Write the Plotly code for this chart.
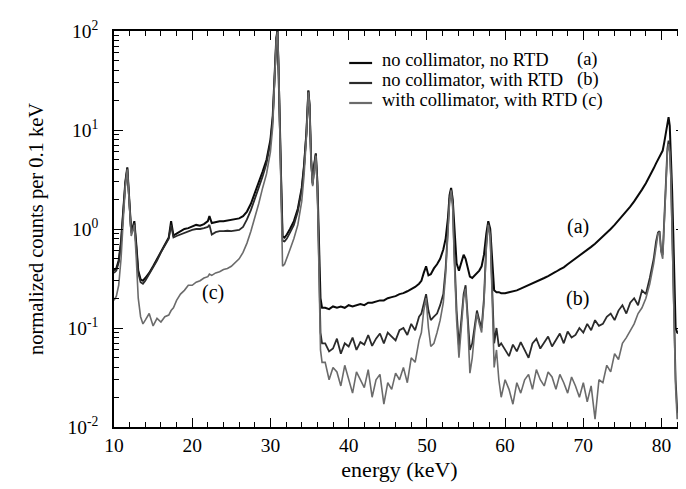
import plotly.graph_objects as go
import math

# Energy grid (keV)
energy = [
    10.0, 10.3, 10.6, 10.9, 11.2, 11.45, 11.7, 11.95, 12.2, 12.4, 12.6, 12.85, 13.1, 13.4, 13.7,
    14.0, 14.5, 15.0, 15.5, 16.0, 16.5, 17.0, 17.3, 17.6, 18.0, 18.5, 19.0, 19.5, 20.0, 20.5,
    21.0, 21.5, 22.0, 22.2, 22.5, 23.0, 23.5, 24.0, 24.5, 25.0, 25.5, 26.0, 26.5, 27.0, 27.5,
    28.0, 28.5, 29.0, 29.5, 30.0,
    30.3, 30.55, 30.75, 30.9, 31.05, 31.2, 31.35, 31.55, 31.8, 32.1, 32.5, 33.0, 33.5, 34.0,
    34.3, 34.6, 34.85, 35.0, 35.2, 35.4, 35.6, 35.8, 36.0, 36.2, 36.4, 36.6,
    37.0, 37.5, 38.0, 38.5, 39.0, 39.5, 40.0, 40.5, 41.0, 41.5, 42.0, 42.5, 43.0, 43.5, 44.0,
    44.5, 45.0, 45.5, 46.0, 46.5, 47.0, 47.5, 48.0, 48.5, 49.0,
    49.3, 49.6, 49.9, 50.2, 50.5, 50.9, 51.3, 51.7, 52.1, 52.4, 52.7, 52.9, 53.1, 53.3, 53.5,
    53.8, 54.1, 54.4, 54.7, 54.95, 55.2, 55.5, 55.8, 56.1, 56.4, 56.7, 57.0, 57.3, 57.6, 57.85,
    58.1, 58.35, 58.6, 58.9, 59.2,
    59.5, 60.0, 60.5, 61.0, 61.5, 62.0, 62.5, 63.0, 63.5, 64.0, 64.5, 65.0, 65.5, 66.0, 66.5,
    67.0, 67.5, 68.0, 68.5, 69.0, 69.5, 70.0, 70.5, 71.0, 71.5, 72.0, 72.5, 73.0, 73.5, 74.0,
    74.5, 75.0, 75.5, 76.0, 76.5, 77.0, 77.5, 78.0, 78.5, 79.0,
    79.3, 79.55, 79.75, 79.95, 80.15, 80.35, 80.55, 80.75, 80.9, 81.05, 81.2, 81.35, 81.5,
    81.65, 81.8, 82.0, 82.3, 82.6, 83.0,
]

# (a) no collimator, no RTD
counts_a = [
    0.38, 0.40, 0.48, 0.75, 1.6, 3.0, 4.2, 2.0, 0.95, 1.05, 1.2, 0.7, 0.38, 0.31, 0.30,
    0.32, 0.36, 0.42, 0.5, 0.6, 0.7, 0.82, 1.2, 0.86, 0.9, 0.95, 1.0, 1.02, 1.05, 1.1,
    1.08, 1.12, 1.2, 1.35, 1.15, 1.18, 1.2, 1.2, 1.22, 1.22, 1.25, 1.28, 1.35, 1.5, 1.8,
    2.3, 2.9, 3.8, 5.0, 8.0,
    14, 40, 85, 102, 45, 12, 3.5, 0.85, 0.82, 0.88, 1.0, 1.2, 1.6, 2.6,
    4.4, 9.5, 25, 18, 5, 2.9, 4.5, 5.8, 3.0, 0.7, 0.2, 0.16,
    0.16, 0.155, 0.165, 0.16, 0.165, 0.16, 0.17, 0.165, 0.17, 0.175, 0.17, 0.18, 0.18, 0.185, 0.19,
    0.19, 0.2, 0.205, 0.21, 0.22, 0.225, 0.235, 0.245, 0.26, 0.28,
    0.3, 0.36, 0.42, 0.34, 0.35, 0.4, 0.44, 0.5, 0.62, 0.8, 1.3, 2.2, 2.6, 2.0, 1.0,
    0.45, 0.38, 0.45, 0.55, 0.5, 0.4, 0.33, 0.32, 0.34, 0.36, 0.38, 0.42, 0.55, 0.9, 1.2,
    1.0, 0.45, 0.24, 0.23, 0.23,
    0.225, 0.225, 0.23, 0.235, 0.24, 0.25, 0.26, 0.27, 0.28, 0.295, 0.305, 0.32, 0.335, 0.35, 0.37,
    0.39, 0.41, 0.44, 0.47, 0.5, 0.53, 0.57, 0.61, 0.66, 0.71, 0.77, 0.84, 0.92, 1.0, 1.1,
    1.22, 1.35, 1.5, 1.68, 1.9, 2.15, 2.5, 2.9, 3.4, 4.1,
    4.6, 5.0, 5.3, 5.6, 6.2, 7.5, 9.5, 12.5, 13.5, 11, 6, 2.5, 0.9,
    0.3, 0.1, 0.09, 0.088, 0.09, 0.088,
]

# (b) no collimator, with RTD
counts_b = [
    0.36, 0.38, 0.46, 0.72, 1.55, 2.9, 4.1, 1.95, 0.92, 1.0, 1.15, 0.66, 0.36, 0.29, 0.28,
    0.30, 0.35, 0.41, 0.48, 0.58, 0.68, 0.8, 1.1, 0.82, 0.85, 0.88, 0.92, 0.95, 0.98, 1.0,
    1.0, 1.02, 1.05, 1.1, 0.88, 0.93, 0.95, 0.95, 0.96, 0.95, 0.97, 0.98, 1.05, 1.25, 1.55,
    2.0, 2.6, 3.4, 4.6, 7.5,
    13, 38, 82, 100, 44, 11, 3.3, 0.76, 0.75, 0.8, 0.92, 1.1, 1.5, 2.5,
    4.3, 9.3, 25, 18, 5, 2.8, 4.4, 5.7, 2.8, 0.5, 0.09, 0.07,
    0.07, 0.058, 0.062, 0.078, 0.055, 0.07, 0.065, 0.08, 0.06, 0.072, 0.068, 0.085, 0.066, 0.078, 0.088,
    0.07, 0.09, 0.082, 0.075, 0.095, 0.1, 0.085, 0.11, 0.095, 0.13,
    0.14, 0.18, 0.22, 0.15, 0.12, 0.13, 0.14, 0.17, 0.22, 0.4, 1.0, 2.0, 2.5, 1.8, 0.6,
    0.15, 0.065, 0.12, 0.22, 0.27, 0.15, 0.06, 0.07, 0.1, 0.15, 0.12, 0.1, 0.2, 0.7, 1.15,
    0.9, 0.25, 0.07, 0.1, 0.065,
    0.07, 0.06, 0.052, 0.068, 0.058, 0.072, 0.06, 0.05, 0.07, 0.078, 0.062, 0.072, 0.082, 0.065, 0.075,
    0.088, 0.07, 0.092, 0.08, 0.085, 0.1, 0.09, 0.11, 0.095, 0.12, 0.105, 0.11, 0.13, 0.14, 0.12,
    0.15, 0.17, 0.14, 0.18, 0.2, 0.17, 0.24, 0.22, 0.32, 0.5,
    0.75, 0.92, 0.95, 0.6, 0.55, 1.2, 3.0, 6.5, 7.8, 6.5, 3.5, 1.2, 0.35,
    0.1, 0.03, 0.015, 0.012, 0.008, 0.005,
]

# (c) with collimator, with RTD
counts_c = [
    0.19, 0.21, 0.27, 0.5, 1.3, 2.7, 4.0, 1.8, 0.85, 0.95, 1.1, 0.5, 0.2, 0.13, 0.11,
    0.12, 0.14, 0.105, 0.125, 0.115, 0.13, 0.135, 0.15, 0.16, 0.19, 0.22, 0.24, 0.27, 0.27, 0.29,
    0.3, 0.32, 0.33, 0.35, 0.34, 0.36, 0.37, 0.39, 0.4, 0.42, 0.46, 0.5, 0.58, 0.72, 0.95,
    1.3, 1.8, 2.6, 3.6, 6.0,
    11, 35, 80, 98, 42, 10, 3.0, 0.42, 0.44, 0.5, 0.62, 0.8, 1.1, 1.9,
    3.5, 8.5, 24, 17, 4.8, 2.7, 4.2, 5.5, 2.6, 0.4, 0.06, 0.045,
    0.045, 0.03, 0.04, 0.036, 0.026, 0.042, 0.03, 0.022, 0.036, 0.03, 0.025, 0.038, 0.02, 0.03, 0.034,
    0.017, 0.028, 0.024, 0.035, 0.03, 0.04, 0.028, 0.05, 0.045, 0.075,
    0.09, 0.15, 0.2, 0.1, 0.065, 0.07, 0.09, 0.12, 0.18, 0.35, 0.95, 1.9, 2.45, 1.7, 0.5,
    0.12, 0.05, 0.1, 0.2, 0.25, 0.12, 0.035, 0.05, 0.09, 0.14, 0.11, 0.09, 0.18, 0.65, 1.1,
    0.85, 0.2, 0.04, 0.06, 0.03,
    0.02, 0.03, 0.024, 0.017, 0.028, 0.022, 0.03, 0.034, 0.024, 0.038, 0.03, 0.026, 0.036, 0.032, 0.024,
    0.034, 0.028, 0.022, 0.032, 0.026, 0.02, 0.028, 0.018, 0.026, 0.012, 0.03, 0.028, 0.042, 0.036, 0.055,
    0.048, 0.07, 0.08, 0.095, 0.11, 0.14, 0.16, 0.2, 0.28, 0.45,
    0.7, 0.9, 0.92, 0.58, 0.5, 1.1, 2.8, 6.0, 7.2, 6.0, 3.2, 1.1, 0.3,
    0.08, 0.025, 0.012, 0.015, 0.007, 0.004,
]

assert len(energy) == len(counts_a) == len(counts_b) == len(counts_c), (
    len(energy), len(counts_a), len(counts_b), len(counts_c))

series_names = ["no collimator, no RTD", "no collimator, with RTD", "with collimator, with RTD (c)"]
series_tags = ["(a)", "(b)"]
curve_labels = ["(a)", "(b)", "(c)"]
x_ticks = [10, 20, 30, 40, 50, 60, 70, 80]
y_ticks = [0.01, 0.1, 1, 10, 100]
y_ticktext = ["10<sup>-2</sup>", "10<sup>-1</sup>", "10<sup>0</sup>", "10<sup>1</sup>", "10<sup>2</sup>"]

FONT = "Liberation Serif"

fig = go.Figure()
styles = [("#0a0a0a", 2.0), ("#2b2b2b", 1.8), ("#6b6b6b", 1.6)]
for name, ys, (col, w) in zip(series_names, [counts_a, counts_b, counts_c], styles):
    fig.add_trace(go.Scatter(x=energy, y=ys, mode="lines", name=name,
                             line=dict(color=col, width=w), showlegend=False))

axis_common = dict(showline=True, linecolor="black", linewidth=1.5, mirror="allticks",
                   ticks="inside", ticklen=9, tickwidth=1.2, tickcolor="black",
                   showgrid=False, zeroline=False,
                   tickfont=dict(family=FONT, size=19.5, color="black"))

fig.update_xaxes(range=[10, 83], tickvals=x_ticks,
                 minor=dict(ticks="inside", ticklen=5, tickwidth=1.1, tickcolor="black", dtick=2, tick0=10),
                 title=dict(text="energy (keV)", font=dict(family=FONT, size=22, color="black"), standoff=6),
                 **axis_common)
fig.update_yaxes(type="log", range=[-2, 2], tickvals=y_ticks, ticktext=y_ticktext,
                 ticklabelstandoff=10,
                 minor=dict(ticks="inside", ticklen=5, tickwidth=1.1, tickcolor="black", dtick="D1"),
                 title=dict(text="normalized counts per 0.1 keV", font=dict(family=FONT, size=20.5, color="black"), standoff=18),
                 **axis_common)

# curve labels inside the plot
label_pos = [(69.3, 1.05), (69.3, 0.2), (22.6, 0.23)]
for txt, (lx, ly) in zip(curve_labels, label_pos):
    fig.add_annotation(x=lx, y=math.log10(ly), text=txt, showarrow=False,
                       font=dict(family=FONT, size=20, color="black"))

# legend drawn manually (short line samples + text)
PW, PH, L, T = 573, 396, 106, 23
def px(x):
    return (x - L) / PW
def py(y):
    return 1 - (y - T) / PH

for i, (name, (col, w)) in enumerate(zip(series_names, styles)):
    fig.add_shape(type="line", xref="paper", yref="paper",
                  x0=px(342), x1=px(365), y0=py(55 + 20 * i), y1=py(55 + 20 * i),
                  line=dict(color=col, width=2.2))
    fig.add_annotation(xref="paper", yref="paper", x=px(373), y=py(52 + 20 * i),
                       xanchor="left", yanchor="middle", text=name, showarrow=False,
                       font=dict(family=FONT, size=18.5, color="black"))
for i, tag in enumerate(series_tags):
    fig.add_annotation(xref="paper", yref="paper", x=px(569), y=py(52 + 20 * i),
                       xanchor="left", yanchor="middle", text=tag, showarrow=False,
                       font=dict(family=FONT, size=18.5, color="black"))

fig.update_layout(
    width=686, height=489,
    margin=dict(l=106, r=7, t=23, b=70),
    paper_bgcolor="white", plot_bgcolor="white",
    showlegend=False,
)

fig.write_html("out.html")
